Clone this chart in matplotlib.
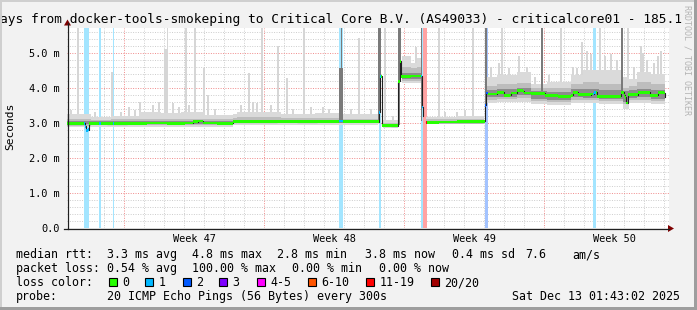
import numpy as np
import matplotlib
matplotlib.use("Agg")
import matplotlib.pyplot as plt
from matplotlib.patches import Rectangle, Polygon
from matplotlib.colors import to_rgb

nan = np.nan

# x = days from the left edge of the graph, y = milliseconds
week_start = [2.86, 9.86, 16.86, 23.86]
week_names = ["Week 47", "Week 48", "Week 49", "Week 50"]
ms_ticks = [0, 1, 2, 3, 4, 5]
ms_labels = ["0.0", "1.0 m", "2.0 m", "3.0 m", "4.0 m", "5.0 m"]

# median rtt
med_t = [0.0, 0.85, 0.9, 0.95, 1.05, 1.1, 2.0, 3.0, 4.0, 5.0, 5.9, 6.3, 6.55, 6.8, 7.5,
         8.3, 9.5, 10.5, 11.5, 12.5, 13.6, 13.8, 14.6, 15.55, 15.62, 15.67, 15.75, 16.2,
         16.55, 16.65, 16.72, 17.2, 17.73, 17.78, 17.82, 17.97, 18.6, 19.5, 20.8, 20.9,
         20.97, 21.05, 21.45, 21.5, 21.85, 22.15, 22.2, 22.45, 22.5, 22.8, 22.85, 23.2,
         23.9, 24.55, 25.2, 25.3, 25.55, 26.2, 26.35, 26.5, 27.05, 27.7, 27.85, 27.92,
         27.97, 28.05, 28.55, 29.15, 29.55, 29.85, 29.9]
med_v = [2.98, 2.98, 2.9, 2.78, 2.8, 2.98, 2.97, 2.98, 2.99, 2.98, 2.99, 3.03, 3.05, 2.99, 2.98,
         3.03, 3.03, 3.04, 3.03, 3.04, 3.05, 3.04, 3.04, 3.03, 3.3, 4.32, 2.93, 2.92,
         4.18, 4.75, 4.32, 4.33, 3.45, 3.2, nan, 3.01, 3.02, 3.03, 3.04, 3.5,
         3.85, 3.82, 3.82, 3.87, 3.78, 3.79, 3.85, 3.85, 3.91, 3.9, 3.85, 3.84,
         3.78, 3.75, 3.78, 3.87, 3.8, 3.82, 3.87, 3.75, 3.75, 3.87, 3.78, 3.72,
         3.56, 3.8, 3.87, 3.78, 3.87, 3.85, 3.73]

# smoke bands (step from band_t[i] to band_t[i+1])
band_t = [0.0, 1.2, 2.2, 3.6, 4.7, 5.7, 6.9, 8.3, 8.5, 10.7, 12.4, 13.8, 15.55, 15.8, 16.55,
          16.75, 17.2, 17.5, 17.72, 17.97, 19.5, 20.85, 21.0, 21.5, 22.5, 23.2, 24.0, 25.2,
          25.8, 26.6, 27.8, 28.1, 28.5, 29.2, 29.9]
light_lo = [2.88, 2.89, 2.89, 2.89, 2.89, 2.89, 2.89, 2.94, 2.94, 2.94, 2.94, 2.94, nan, 2.86, nan,
            4.12, 4.12, 4.12, nan, 2.95, 2.95, nan, 3.55, 3.58, 3.6, 3.52, 3.5, 3.55,
            3.55, 3.52, 3.4, 3.55, 3.55, 3.52, nan]
light_hi = [3.25, 3.15, 3.2, 3.3, 3.28, 3.3, 3.22, 3.25, 3.3, 3.25, 3.28, 3.25, nan, 3.08, nan,
            4.9, 4.7, 4.85, nan, 3.15, 3.2, nan, 4.3, 4.35, 4.45, 4.1, 4.15, 4.35,
            4.5, 4.5, 4.3, 4.25, 4.45, 4.4, nan]
mid_lo = [2.92, 2.93, 2.93, 2.93, 2.93, 2.93, 2.93, 2.98, 2.98, 2.98, 2.98, 2.98, nan, 2.88, nan,
          4.18, 4.18, 4.18, nan, 2.97, 2.97, nan, 3.65, 3.68, 3.7, 3.62, 3.6, 3.66,
          3.65, 3.62, 3.52, 3.65, 3.66, 3.62, nan]
mid_hi = [3.1, 3.08, 3.1, 3.12, 3.12, 3.12, 3.1, 3.14, 3.15, 3.14, 3.14, 3.12, nan, 3.0, nan,
          4.6, 4.55, 4.6, nan, 3.1, 3.11, nan, 4.05, 4.1, 4.12, 3.98, 4.0, 4.1,
          4.15, 4.1, 4.0, 4.05, 4.15, 4.1, nan]
dark_lo = [2.95, 2.95, 2.95, 2.95, 2.95, 2.96, 2.95, 3.0, 3.0, 3.0, 3.0, 3.0, nan, 2.9, nan,
           4.24, 4.24, 4.24, nan, 2.99, 2.99, nan, 3.72, 3.74, 3.78, 3.68, 3.66, 3.72,
           3.7, 3.68, 3.58, 3.7, 3.72, 3.68, nan]
dark_hi = [3.04, 3.04, 3.04, 3.05, 3.05, 3.06, 3.04, 3.09, 3.09, 3.09, 3.09, 3.09, nan, 2.97, nan,
           4.42, 4.42, 4.42, nan, 3.06, 3.07, nan, 3.93, 3.96, 4.0, 3.9, 3.88, 3.95,
           3.96, 3.92, 3.9, 3.93, 3.96, 3.92, nan]

# single outlier pings
spike_t = [0.55, 2.25, 3.65, 4.9, 4.97, 5.02, 5.95, 6.4, 6.85, 7.05, 9.1, 9.75, 10.55, 11.0,
           11.85, 12.8, 14.6, 15.9, 17.45, 18.6, 19.5, 20.3, 21.75, 24.7, 25.75, 26.65,
           28.05, 28.7, 29.7,
           0.2, 1.4, 2.7, 3.1, 3.4, 4.3, 4.6, 5.3, 5.6, 6.1, 7.4, 8.7, 9.3, 9.5, 10.2,
           11.3, 12.2, 13.1, 14.2, 15.2, 16.3, 18.9, 19.9,
           21.2, 21.6, 22.1, 22.6, 23.0, 23.4, 24.1, 25.3, 25.5, 26.0, 26.2, 26.9, 27.2,
           27.5, 28.35, 28.8, 29.0, 29.35, 29.55]
spike_lo = [3.0, 3.0, 3.0, 3.0, 3.0, 3.0, 3.0, 3.0, 3.0, 3.0, 3.05, 3.05, 3.05, 3.05,
            3.05, 3.05, 3.05, 2.95, 4.3, 3.0, 3.0, 3.0, 3.8, 3.8, 3.8, 3.8,
            3.8, 3.8, 3.8,
            3.0, 3.0, 3.0, 3.0, 3.0, 3.0, 3.0, 3.0, 3.0, 3.0, 3.0, 3.05, 3.05, 3.05, 3.05,
            3.05, 3.05, 3.05, 3.05, 3.05, 2.93, 3.0, 3.0,
            3.8, 3.8, 3.8, 3.8, 3.8, 3.8, 3.8, 3.8, 3.8, 3.8, 3.8, 3.8, 3.8,
            3.8, 3.8, 3.8, 3.8, 3.8, 3.8]
spike_hi = [5.7, 4.45, 3.6, 5.1, 5.1, 5.7, 5.7, 5.7, 4.55, 3.8, 4.42, 5.7, 5.18, 4.27,
            5.7, 3.45, 5.41, 5.7, 5.15, 5.7, 3.3, 5.7, 5.7, 5.7, 5.3, 5.7,
            5.7, 5.2, 5.05,
            3.35, 3.3, 3.3, 3.45, 3.35, 3.5, 3.6, 3.55, 3.45, 3.5, 3.4, 3.5, 3.6, 3.55, 3.5,
            3.4, 3.45, 3.4, 3.4, 3.4, 3.2, 3.3, 3.35,
            4.6, 4.7, 4.55, 4.9, 4.6, 4.3, 4.35, 4.6, 4.55, 5.05, 4.95, 4.9, 4.95,
            4.8, 4.6, 5.0, 4.8, 4.7, 4.9]
# wide-spread intervals
dspike_t = [13.72, 13.66, 13.76, 15.57, 15.65, 16.6, 16.68, 17.72, 20.92, 20.98, 23.75, 27.75]
dspike_lo = [3.05, 3.05, 3.05, 2.98, 3.3, 2.93, 4.2, 3.05, 3.1, 3.6, 3.9, 3.9]
dspike_hi = [5.7, 4.56, 4.56, 5.7, 5.7, 5.7, 5.7, 5.7, 5.7, 5.7, 5.7, 5.7]

# packet loss intervals
loss_t0 = [0.85, 1.62, 2.29, 13.6, 15.6, 17.7, 17.82, 20.88, 26.29]
loss_t1 = [1.11, 1.69, 2.35, 13.82, 15.7, 17.82, 18.02, 21.05, 26.45]
loss_n = [1, 1, 1, 1, 1, 1, 15, 2, 1]

loss_keys = [0, 1, 2, 3, 5, 10, 19, 20]
loss_labels = ["0", "1", "2", "3", "4-5", "6-10", "11-19", "20/20"]
loss_colors = ["#26ff00", "#00b8ff", "#0059ff", "#7e00ff", "#ff00ff", "#ff5500", "#ff0000", "#a10000"]


def loss_color(n):
    for k, c in zip(loss_keys, loss_colors):
        if n <= k:
            return c
    return loss_colors[-1]


plt.rcParams['font.family'] = ['DejaVu Sans Mono']

fig = plt.figure(figsize=(6.97, 3.10), dpi=100)
fig.patch.set_facecolor('#f2f2f2')

bg = fig.add_axes([0, 0, 1, 1])
bg.set_xlim(0, 697)
bg.set_ylim(310, 0)
bg.axis('off')

ax = fig.add_axes([67 / 697, 82 / 310, 602 / 697, 200 / 310])
ax.set_facecolor('white')
ax.set_xlim(0, 30.1)
ax.set_ylim(0, 5.7)
for s in ax.spines.values():
    s.set_visible(False)
ax.set_yticks(ms_ticks, ms_labels, fontsize=7.4)
ax.set_xticks([w + 3.5 for w in week_start], week_names, fontsize=7.4)
ax.tick_params(axis='y', length=0, pad=5.5)
ax.tick_params(axis='x', length=0, pad=4.5)

# grid
dot = (0, (1, 1.5))
for y in np.arange(0.2, 5.7, 0.2):
    if abs(y - round(y)) > 0.01:
        ax.axhline(y, color='#cccccc', lw=0.7, ls=dot, zorder=0.5)
for x in np.arange(0.86, 30.0, 1.0):
    if min(abs(x - w) for w in week_start) > 0.01:
        ax.axvline(x, color='#cccccc', lw=0.7, ls=dot, zorder=0.5)
for y in ms_ticks[1:]:
    ax.axhline(y, color='#f08a8a', lw=0.7, ls=dot, zorder=0.6)
for x in week_start:
    ax.axvline(x, color='#f08a8a', lw=0.7, ls=dot, zorder=0.6)

# loss background
bgcols = []
for n in loss_n:
    r, g, b = to_rgb(loss_color(n))
    a = 0.36
    bgcols.append((1 - a + a * r, 1 - a + a * g, 1 - a + a * b))
ax.bar(loss_t0, 5.7, bottom=0, width=np.array(loss_t1) - np.array(loss_t0), align='edge',
       color=bgcols, lw=0, zorder=1)

# smoke
ax.bar(spike_t, np.array(spike_hi) - np.array(spike_lo), bottom=spike_lo, width=0.08,
       color='#d6d6d6', lw=0, zorder=2)
bw = np.diff(band_t)
for lo, hi, col, z in [(light_lo, light_hi, '#dadada', 3), (mid_lo, mid_hi, '#bdbdbd', 4),
                       (dark_lo, dark_hi, '#8c8c8c', 5)]:
    lo = np.array(lo[:-1])
    hi = np.array(hi[:-1])
    ax.bar(band_t[:-1], hi - lo, bottom=lo, width=bw, align='edge', color=col, lw=0, zorder=z)
ax.bar(dspike_t, np.array(dspike_hi) - np.array(dspike_lo), bottom=dspike_lo, width=0.08,
       color='#7a7a7a', lw=0, zorder=5.5)

# median
mt = np.array(med_t)
mv = np.array(med_v)
ax.plot(mt, mv, drawstyle='steps-post', color='#202020', lw=0.8, zorder=6)
hw = 0.04
ax.bar(mt[:-1], 2 * hw, bottom=mv[:-1] - hw, width=np.diff(mt), align='edge',
       color=loss_colors[0], lw=0, zorder=7)
for t0, t1, n in zip(loss_t0, loss_t1, loss_n):
    edges = [t0] + [t for t in mt if t0 < t < t1] + [t1]
    for a, b in zip(edges[:-1], edges[1:]):
        v = mv[np.searchsorted(mt, a, side='right') - 1]
        if np.isnan(v):
            continue
        ax.bar(a, 2 * hw, bottom=v - hw, width=b - a, align='edge',
               color=loss_color(n), lw=0, zorder=8)

# overlay: frame, axes, arrows
ov = fig.add_axes([0, 0, 1, 1], zorder=10)
ov.set_xlim(0, 697)
ov.set_ylim(310, 0)
ov.axis('off')
ov.add_patch(Rectangle((0, 0), 697, 2, color='#cfcfcf', lw=0))
ov.add_patch(Rectangle((0, 0), 2, 310, color='#cfcfcf', lw=0))
ov.add_patch(Rectangle((694, 0), 3, 310, color='#9e9e9e', lw=0))
ov.add_patch(Rectangle((0, 307), 697, 3, color='#9e9e9e', lw=0))
ov.plot([67.5, 67.5], [228.5, 23], color='#202020', lw=0.9)
ov.plot([64, 669], [228.5, 228.5], color='#202020', lw=0.9)
ov.add_patch(Polygon([(64, 25.5), (71, 25.5), (67.5, 19.5)], color='#7f0000', lw=0))
ov.add_patch(Polygon([(668, 225), (668, 232), (674, 228.5)], color='#7f0000', lw=0))

# texts
bg.text(0.5, 23, "ays from docker-tools-smokeping to Critical Core B.V. (AS49033) - criticalcore01 - 185.1",
        fontsize=9.3, va='baseline', ha='left')
bg.text(10, 126, "Seconds", rotation=90, fontsize=8.1, ha='center', va='center')
ov.text(687, 60, "RRDTOOL / TOBI OETIKER", rotation=270, fontsize=6, color='#b4b4b4',
        ha='center', va='center')

fs = 8.35
rows = [258.3, 272.3, 286.3, 300.3]
bg.text(16, rows[0], "median rtt:", fontsize=fs, va='baseline')
for x, s in [(107, "3.3 ms avg"), (192, "4.8 ms max"), (277, "2.8 ms min"), (365, "3.8 ms now"),
             (452, "0.4 ms sd"), (525, "7.6"), (572, "am/s")]:
    bg.text(x, rows[0], s, fontsize=fs, va='baseline')
bg.text(16, rows[1], "packet loss:", fontsize=fs, va='baseline')
for x, s in [(107, "0.54 % avg"), (192, "100.00 % max"), (292, "0.00 % min"), (379, "0.00 % now")]:
    bg.text(x, rows[1], s, fontsize=fs, va='baseline')
bg.text(16, rows[2], "loss color:", fontsize=fs, va='baseline')
sq_x = [108.5, 145, 182.5, 219, 257, 308, 366, 431]
for x, lab, col in zip(sq_x, loss_labels, loss_colors):
    bg.add_patch(Rectangle((x, 278), 8, 8, facecolor=col, edgecolor='black', lw=0.8))
    bg.text(x + 13.5, rows[2], lab, fontsize=fs, va='baseline')
bg.text(16, rows[3], "probe:", fontsize=fs, va='baseline')
bg.text(107, rows[3], "20 ICMP Echo Pings (56 Bytes) every 300s", fontsize=fs, va='baseline')
bg.text(680, rows[3], "Sat Dec 13 01:43:02 2025", fontsize=fs, va='baseline', ha='right')

fig.savefig("out.png", dpi=100, facecolor=fig.get_facecolor())
